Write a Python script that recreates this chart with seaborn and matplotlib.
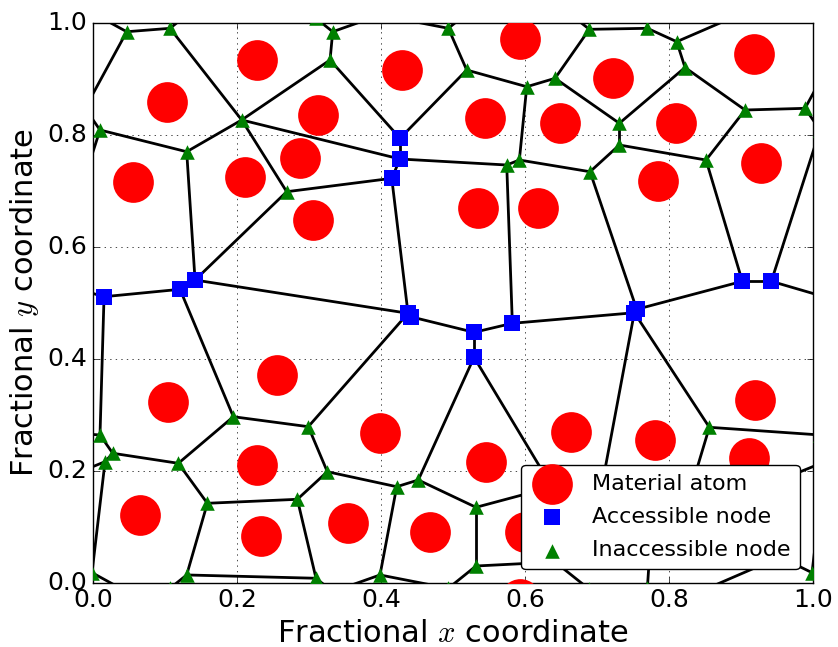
import numpy as np
import pandas as pd
import matplotlib
matplotlib.use("Agg")
import matplotlib.pyplot as plt
import seaborn as sns

# atom centres (fractional coordinates, unit cell)
atom_x = [0.1024, 0.2274, 0.3129, 0.2875, 0.2111, 0.0560, 0.3051, 0.4288,
          0.5444, 0.5931, 0.5351, 0.6185, 0.6486, 0.7226, 0.8097, 0.9185,
          0.9274, 0.7851, 0.2551, 0.1046, 0.2274, 0.3986, 0.5454, 0.6635,
          0.7806, 0.9194, 0.9115, 0.0653, 0.2333, 0.3546, 0.4681, 0.6000]
atom_y = [0.8589, 0.9334, 0.8352, 0.7589, 0.7239, 0.7161, 0.6477, 0.9155,
          0.8293, 0.9709, 0.6686, 0.6700, 0.8204, 0.9007, 0.8214, 0.9436,
          0.7500, 0.7173, 0.3709, 0.3232, 0.2102, 0.2668, 0.2150, 0.2696,
          0.2548, 0.3263, 0.2221, 0.1209, 0.0839, 0.1061, 0.0900, 0.0905]

# network nodes (A = accessible, I = inaccessible)
node_x = [0.0468, 0.1069, 0.2065, 0.3292, 0.3329, 0.3986, 0.4935, 0.5190,
          0.6024, 0.6417, 0.6893, 0.7699, 0.8107, 0.8222, 0.9056, 0.9889,
          0.7310, 0.7310, 0.8514, 0.6903, 0.5921, 0.5746, 0.4264, 0.4264,
          0.4149, 0.2690, 0.1301, 0.0097, 0.0153, 0.1208, 0.1417, 0.4375,
          0.4410, 0.5292, 0.5292, 0.5824, 0.7551, 0.7518, 0.9018, 0.9421,
          0.1949, 0.2990, 0.0097, 0.0274, 0.0167, 0.1185, 0.3254, 0.1588,
          0.2838, 0.1301, 0.3097, 0.4218, 0.4518, 0.5319, 0.5319, 0.8560,
          0.9986, 0.6417, 0.6375, 0.7083, 0.7208, 0.7736, 0.8236, 0.9472,
          0.9542]
node_y = [0.9839, 0.9900, 0.8263, 0.9334, 0.9839, 0.0138, 0.9900, 0.9155,
          0.8857, 0.9007, 0.9882, 0.9900, 0.9661, 0.9200, 0.8441, 0.8471,
          0.8204, 0.7816, 0.7548, 0.7339, 0.7548, 0.7459, 0.7936, 0.7566,
          0.7221, 0.6982, 0.7696, 0.8084, 0.5107, 0.5239, 0.5405, 0.4811,
          0.4750, 0.4471, 0.4025, 0.4632, 0.4882, 0.4821, 0.5382, 0.5382,
          0.2964, 0.2786, 0.2638, 0.2311, 0.2161, 0.2132, 0.1982, 0.1418,
          0.1489, 0.0138, 0.0079, 0.1714, 0.1834, 0.1346, 0.0298, 0.2775,
          0.0179, 0.0370, 0.1709, 0.1834, 0.1120, 0.0620, 0.1388, 0.1798,
          0.0459]
node_kind = list("IIIIIIIIIIIIIIIIIIIIII" "AAA" "III" "AAAAAAAAAAAA"
                 "IIIIIIIIIIIIIIIII" "IIIIIIII")

# edges: node a -> node b shifted by (dx, dy) cells
edge_a = [0, 0, 0, 1, 1, 2, 2, 2, 2, 3, 3, 4, 4, 6, 6, 6, 7, 7, 8, 8,
          9, 9, 10, 10, 11, 11, 12, 12, 13, 13, 14, 14, 15, 16, 17, 17, 18, 19, 19, 20,
          21, 21, 22, 23, 24, 24, 25, 26, 26, 27, 28, 28, 28, 29, 29, 30, 31, 31, 32, 33,
          33, 34, 34, 35, 36, 36, 37, 37, 38, 40, 40, 41, 42, 42, 43, 43, 44, 44, 45, 46,
          46, 47, 47, 48, 49, 51, 51, 52, 53, 53, 54, 57, 58, 59, 60, 61, 62, 62, 63, 64]
edge_b = [1, 15, 56, 2, 49, 3, 23, 25, 26, 4, 22, 5, 50, 7, 5, 54, 22, 8, 9, 20,
          10, 16, 11, 57, 12, 61, 13, 64, 16, 14, 15, 18, 27, 17, 19, 18, 38, 20, 36, 21,
          23, 35, 23, 24, 25, 31, 30, 27, 30, 39, 29, 39, 42, 30, 40, 31, 32, 41, 33, 34,
          35, 52, 58, 37, 37, 38, 59, 55, 39, 41, 45, 46, 43, 55, 44, 45, 56, 63, 47, 48,
          51, 48, 49, 50, 50, 52, 5, 53, 54, 58, 57, 60, 59, 60, 61, 62, 55, 63, 64, 56]
edge_dx = [0, -1, -1, 0, 0, 0, 0, 0, 0, 0, 0, 0, 0, 0, 0, 0, 0, 0, 0, 0,
           0, 0, 0, 0, 0, 0, 0, 0, 0, 0, 0, 0, 1, 0, 0, 0, 0, 0, 0, 0,
           0, 0, 0, 0, 0, 0, 0, 0, 0, -1, 0, -1, 0, 0, 0, 0, 0, 0, 0, 0,
           0, 0, 0, 0, 0, 0, 0, 0, 0, 0, 0, 0, 0, -1, 0, 0, -1, -1, 0, 0,
           0, 0, 0, 0, 0, 0, 0, 0, 0, 0, 0, 0, 0, 0, 0, 0, 0, 0, 0, 0]
edge_dy = [0, 0, 1, 0, 1, 0, 0, 0, 0, 0, 0, 1, 1, 0, 1, 1, 0, 0, 0, 0,
           0, 0, 0, 1, 0, 1, 0, 1, 0, 0, 0, 0, 0, 0, 0, 0, 0, 0, 0, 0,
           0, 0, 0, 0, 0, 0, 0, 0, 0, 0, 0, 0, 0, 0, 0, 0, 0, 0, 0, 0,
           0, 0, 0, 0, 0, 0, 0, 0, 0, 0, 0, 0, 0, 0, 0, 0, 0, 0, 0, 0,
           0, 0, 0, 0, 0, 0, 0, 0, 0, 0, 0, 0, 0, 0, 0, 0, 0, 0, 0, 0]

plt.style.use("classic")
plt.rcParams["figure.facecolor"] = "white"
plt.rcParams["savefig.facecolor"] = "white"

shifts = [(sx, sy) for sx in (-1, 0, 1) for sy in (-1, 0, 1)]


def tile(df):
    # periodic images of the unit cell
    return pd.concat([df.assign(x=df.x + sx, y=df.y + sy) for sx, sy in shifts],
                     ignore_index=True)


atoms = tile(pd.DataFrame({"x": atom_x, "y": atom_y}))
nodes = tile(pd.DataFrame({"x": node_x, "y": node_y, "kind": node_kind}))

fig = plt.figure(figsize=(8.38, 6.47), dpi=100)
ax = fig.add_axes([0.111, 0.0994, 0.8592, 0.8655])

for a, b, dx, dy in zip(edge_a, edge_b, edge_dx, edge_dy):
    xs = np.array([node_x[a], node_x[b] + dx])
    ys = np.array([node_y[a], node_y[b] + dy])
    for sx, sy in shifts:
        ax.plot(xs + sx, ys + sy, color="k", lw=2, zorder=2)

sns.scatterplot(data=atoms, x="x", y="y", s=860, color="r", marker="o",
                linewidth=0, label="Material atom", ax=ax, zorder=3)
sns.scatterplot(data=nodes[nodes.kind == "A"], x="x", y="y", s=144, color="b",
                marker="s", linewidth=0, label="Accessible node", ax=ax, zorder=4)
sns.scatterplot(data=nodes[nodes.kind == "I"], x="x", y="y", s=110, color="g",
                marker="^", linewidth=0, label="Inaccessible node", ax=ax, zorder=4)

ax.set_xlim(0, 1)
ax.set_ylim(0, 1)
ax.set_xticks(np.arange(0, 1.01, 0.2))
ax.set_yticks(np.arange(0, 1.01, 0.2))
ax.tick_params(labelsize=18)
ax.grid(True)
ax.set_axisbelow(True)
ax.set_xlabel("Fractional $x$ coordinate", fontsize=22)
ax.set_ylabel("Fractional $y$ coordinate", fontsize=22)
ax.legend(loc="lower right", scatterpoints=1, fancybox=True, fontsize=16,
          framealpha=1, labelspacing=0.6, borderaxespad=0.6)

fig.savefig("out.png", dpi=100)
